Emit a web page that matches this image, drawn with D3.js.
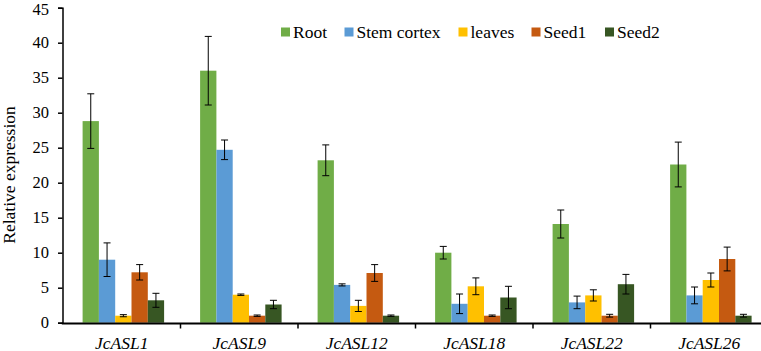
<!DOCTYPE html>
<html><head><meta charset="utf-8">
<script src="https://cdn.jsdelivr.net/npm/d3@7"></script>
<style>body{margin:0;background:#fff}svg{display:block}</style>
</head><body>
<script>
const categories = ["JcASL1","JcASL9","JcASL12","JcASL18","JcASL22","JcASL26"];
const seriesNames = ["Root","Stem cortex","leaves","Seed1","Seed2"];
const root   = [28.8, 36.0, 23.2, 10.0, 14.1, 22.6];
const stem   = [9.0, 24.7, 5.4, 2.7, 2.9, 3.9];
const leaves = [1.0, 4.0, 2.4, 5.2, 3.9, 6.1];
const seed1  = [7.2, 1.0, 7.1, 1.0, 1.0, 9.1];
const seed2  = [3.2, 2.6, 1.0, 3.6, 5.5, 1.0];
const rootErr   = [3.9, 4.9, 2.2, 0.9, 2.0, 3.2];
const stemErr   = [2.4, 1.4, 0.15, 1.4, 0.9, 1.2];
const leavesErr = [0.15, 0.1, 0.8, 1.2, 0.8, 1.0];
const seed1Err  = [1.1, 0.1, 1.2, 0.1, 0.2, 1.7];
const seed2Err  = [1.0, 0.6, 0.1, 1.6, 1.4, 0.2];
const yTicks = [0,5,10,15,20,25,30,35,40,45];
const colors = ["#70AD47","#5B9BD5","#FFC000","#C55A11","#375623"];

const values = [root, stem, leaves, seed1, seed2];
const errs = [rootErr, stemErr, leavesErr, seed1Err, seed2Err];

const W = 761, H = 351;
const FONT = "'Liberation Serif', 'Times New Roman', serif";
const FS = 17.5;
const svg = d3.select("body").append("svg").attr("width", W).attr("height", H)
  .style("font-family", FONT);

const x0 = 63, bandW = 117.5;
const x = d3.scaleBand().domain(categories).range([x0, x0 + bandW*6]).paddingInner(0).paddingOuter(0);
const xs = d3.scaleBand().domain(seriesNames).range([19.6, bandW - 16.4]);
const y = d3.scaleLinear().domain([0,45]).range([322.7, 7.7]);

// bars
seriesNames.forEach((s, si) => {
  const g = svg.append("g");
  g.selectAll("rect").data(categories).join("rect")
    .attr("x", c => x(c) + xs(s))
    .attr("width", xs.bandwidth())
    .attr("y", (c,i) => y(values[si][i]))
    .attr("height", (c,i) => y(0) - y(values[si][i]))
    .attr("fill", colors[si]);
  categories.forEach((c,i) => {
    const cx = x(c) + xs(s) + xs.bandwidth()/2;
    const v = values[si][i], e = errs[si][i];
    const top = y(v+e), bot = y(v-e);
    g.append("line").attr("x1",cx).attr("x2",cx).attr("y1",top).attr("y2",bot).attr("stroke","#000").attr("stroke-width",1);
    [top,bot].forEach(yy => g.append("line").attr("x1",cx-3.5).attr("x2",cx+3.5).attr("y1",yy).attr("y2",yy).attr("stroke","#000").attr("stroke-width",1));
  });
});

// y axis
const yAxis = svg.append("g").attr("transform", `translate(${x0 - 0.5},0)`)
  .call(d3.axisLeft(y).tickValues(yTicks).tickSize(4.5).tickPadding(9).tickFormat(d3.format("d")));
yAxis.attr("font-family", FONT).attr("font-size", 16.5);
yAxis.select(".domain").attr("stroke","#000").attr("stroke-width",1.5);
yAxis.selectAll(".tick line").attr("stroke","#000").attr("stroke-width",1.5);
yAxis.selectAll("text").attr("fill","#000").attr("dy", d => d === 45 ? "0.43em" : "0.3em");

// x axis
const xAxisG = svg.append("g").attr("transform", `translate(0,${y(0) + 0.8})`);
xAxisG.append("line").attr("x1", x0 - 1.2).attr("x2", W).attr("y1",0).attr("y2",0).attr("stroke","#000").attr("stroke-width",2);
xAxisG.selectAll(".bt").data(categories.slice(1)).join("line")
  .attr("x1", c => x(c)).attr("x2", c => x(c)).attr("y1",0).attr("y2",5).attr("stroke","#000").attr("stroke-width",1.5);
xAxisG.selectAll(".lbl").data(categories).join("text")
  .attr("x", c => x(c) + bandW/2).attr("y", 25)
  .attr("text-anchor","middle").attr("font-size",FS).attr("font-style","italic").attr("fill","#000")
  .text(c => c);

// y title
svg.append("text").attr("transform","translate(15,175) rotate(-90)")
  .attr("text-anchor","middle").attr("font-size",FS).attr("fill","#000").text("Relative expression");

// legend
const legTextX = [293, 356.5, 470.5, 543.5, 617];
const leg = svg.append("g");
seriesNames.forEach((s,i) => {
  leg.append("rect").attr("x", legTextX[i] - 12).attr("y", 27.5).attr("width", 9).attr("height", 9).attr("fill", colors[i]);
  leg.append("text").attr("x", legTextX[i]).attr("y", 37.5).attr("font-size",FS).attr("fill","#000").text(s);
});
</script>
</body></html>
